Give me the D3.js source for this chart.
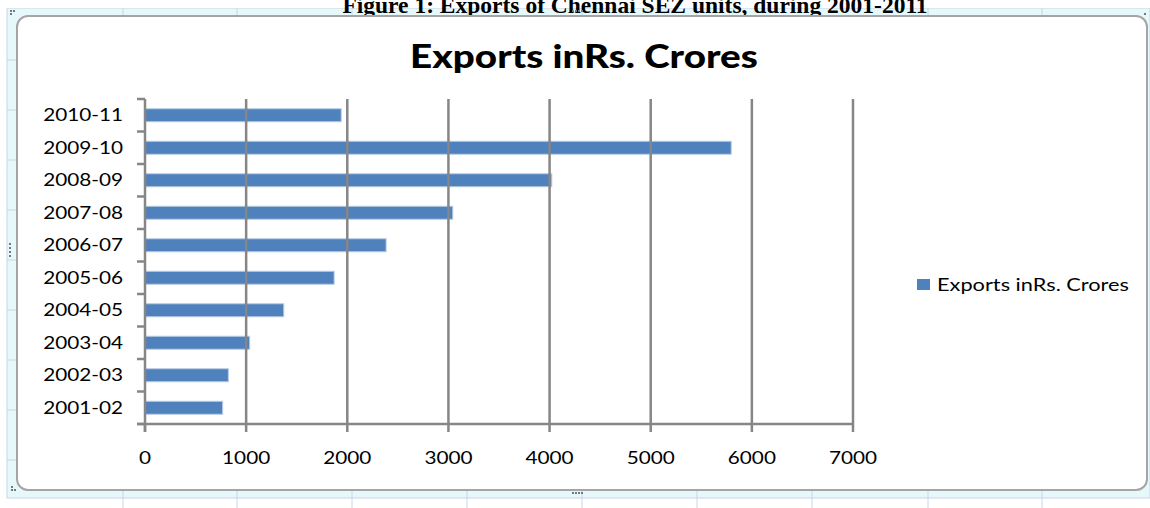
<!DOCTYPE html>
<html>
<head>
<meta charset="utf-8">
<style>
  body { margin: 0; background: #fff; }
  text { font-family: Lato, "Open Sans", sans-serif; fill: #000; }
  .caption { font-family: "Liberation Serif", serif; font-weight: bold; font-size: 23.5px; }
</style>
</head>
<body>
<div id="chart"></div>
<script src="https://cdn.jsdelivr.net/npm/d3@7"></script>
<script>
    // data
    const years = ["2001-02", "2002-03", "2003-04", "2004-05", "2005-06",
                   "2006-07", "2007-08", "2008-09", "2009-10", "2010-11"];
    const exports = [768, 824, 1035, 1372, 1870, 2384, 3043, 4022, 5796, 1940];
    const xTicks = [0, 1000, 2000, 3000, 4000, 5000, 6000, 7000];
    const seriesName = "Exports inRs. Crores";

    const W = 1150, H = 508;
    const svg = d3.select("#chart").append("svg")
        .attr("width", W).attr("height", H);

    // spreadsheet background behind the chart object
    const sheet = svg.append("g");
    sheet.append("rect").attr("x", 7).attr("y", 8).attr("width", W - 7).attr("height", 490)
        .attr("fill", "#e7f8fa").attr("stroke", "#c9d6e3");
    const cols = [123, 237, 352, 467, 582, 697, 812, 928, 1042];
    cols.forEach(c => {
        sheet.append("line").attr("x1", c).attr("x2", c).attr("y1", 8).attr("y2", H)
            .attr("stroke", "#c9d6e3");
    });
    const rows = [60, 110, 160, 210, 260, 310, 360, 410, 460];
    rows.forEach(r => {
        sheet.append("line").attr("x1", 7).attr("x2", 18).attr("y1", r).attr("y2", r)
            .attr("stroke", "#c9d6e3");
    });

    // caption of the figure (cut at the top edge, as in the source)
    svg.append("rect").attr("x", 0).attr("y", 0).attr("width", W).attr("height", 8).attr("fill", "#fff");
    svg.append("text").attr("class", "caption")
        .attr("x", 635).attr("y", 13).attr("text-anchor", "middle")
        .text("Figure 1: Exports of Chennai SEZ units, during 2001-2011");

    // chart frame
    svg.append("rect").attr("x", 17).attr("y", 16).attr("width", 1130).attr("height", 474)
        .attr("rx", 11).attr("fill", "#fff").attr("stroke", "#a5a5a5").attr("stroke-width", 2);

    // little grips
    const grips = [[573, 11], [576, 11], [579, 11], [582, 11], [11, 11], [14, 11], [11, 14],
                   [10, 244], [10, 248], [10, 252], [10, 256], [12, 487], [12, 490], [15, 490],
                   [573, 493], [576, 493], [579, 493], [582, 493], [1145, 14]];
    grips.forEach(p => svg.append("rect").attr("x", p[0] - 1).attr("y", p[1] - 1)
        .attr("width", 2).attr("height", 2).attr("fill", "#6e7b86"));

    const x = d3.scaleLinear().domain([0, 7000]).range([145, 853]);
    const y = d3.scaleBand().domain(years.slice().reverse()).range([99, 424])
        .paddingInner(0.6).paddingOuter(0.3);
    const step = y.step();

    // title
    svg.append("text").attr("x", 584).attr("y", 68).attr("text-anchor", "middle")
        .style("font-weight", "900").style("font-size", "33px")
        .attr("transform", "translate(584,0) scale(1.17,1) translate(-584,0)")
        .text(seriesName);

    // bars
    svg.append("g").selectAll("rect").data(years).join("rect")
        .attr("x", x(0))
        .attr("y", d => y(d))
        .attr("width", (d, i) => x(exports[i]) - x(0))
        .attr("height", y.bandwidth())
        .attr("fill", "#4f81bd")
        .attr("stroke", "#b9cde5").attr("stroke-width", 1);

    // vertical gridlines (over the bars)
    const grid = svg.append("g").attr("stroke", "#868686").attr("stroke-width", 2.5);
    grid.selectAll("line").data(xTicks.slice(1)).join("line")
        .attr("x1", d => x(d)).attr("x2", d => x(d))
        .attr("y1", 99).attr("y2", 424);

    // axes
    const ax = svg.append("g").attr("stroke", "#868686").attr("stroke-width", 2.5);
    ax.append("line").attr("x1", x(0)).attr("x2", x(0)).attr("y1", 99).attr("y2", 432);
    ax.append("line").attr("x1", 137).attr("x2", x(7000)).attr("y1", 424).attr("y2", 424);
    ax.selectAll(".xt").data(xTicks).join("line").attr("class", "xt")
        .attr("x1", d => x(d)).attr("x2", d => x(d)).attr("y1", 424).attr("y2", 432);
    const bounds = d3.range(years.length + 1).map(i => 99 + i * step);
    ax.selectAll(".yt").data(bounds).join("line").attr("class", "yt")
        .attr("x1", 137).attr("x2", x(0)).attr("y1", d => d).attr("y2", d => d);

    // tick labels
    svg.append("g").selectAll("text").data(xTicks).join("text")
        .attr("transform", d => `translate(${x(d)},464) scale(1.22,1)`)
        .attr("text-anchor", "middle").style("font-size", "17px")
        .text(d => d);
    svg.append("g").selectAll("text").data(years).join("text")
        .attr("transform", d => `translate(123,${y(d) + y.bandwidth() / 2 + 6}) scale(1.22,1)`)
        .attr("text-anchor", "end").style("font-size", "17px")
        .text(d => d);

    // legend
    svg.append("rect").attr("x", 917).attr("y", 279).attr("width", 13).attr("height", 11)
        .attr("fill", "#4f81bd");
    svg.append("text").attr("transform", "translate(937,291) scale(1.28,1)")
        .style("font-size", "17px").text(seriesName);
</script>
</body>
</html>
